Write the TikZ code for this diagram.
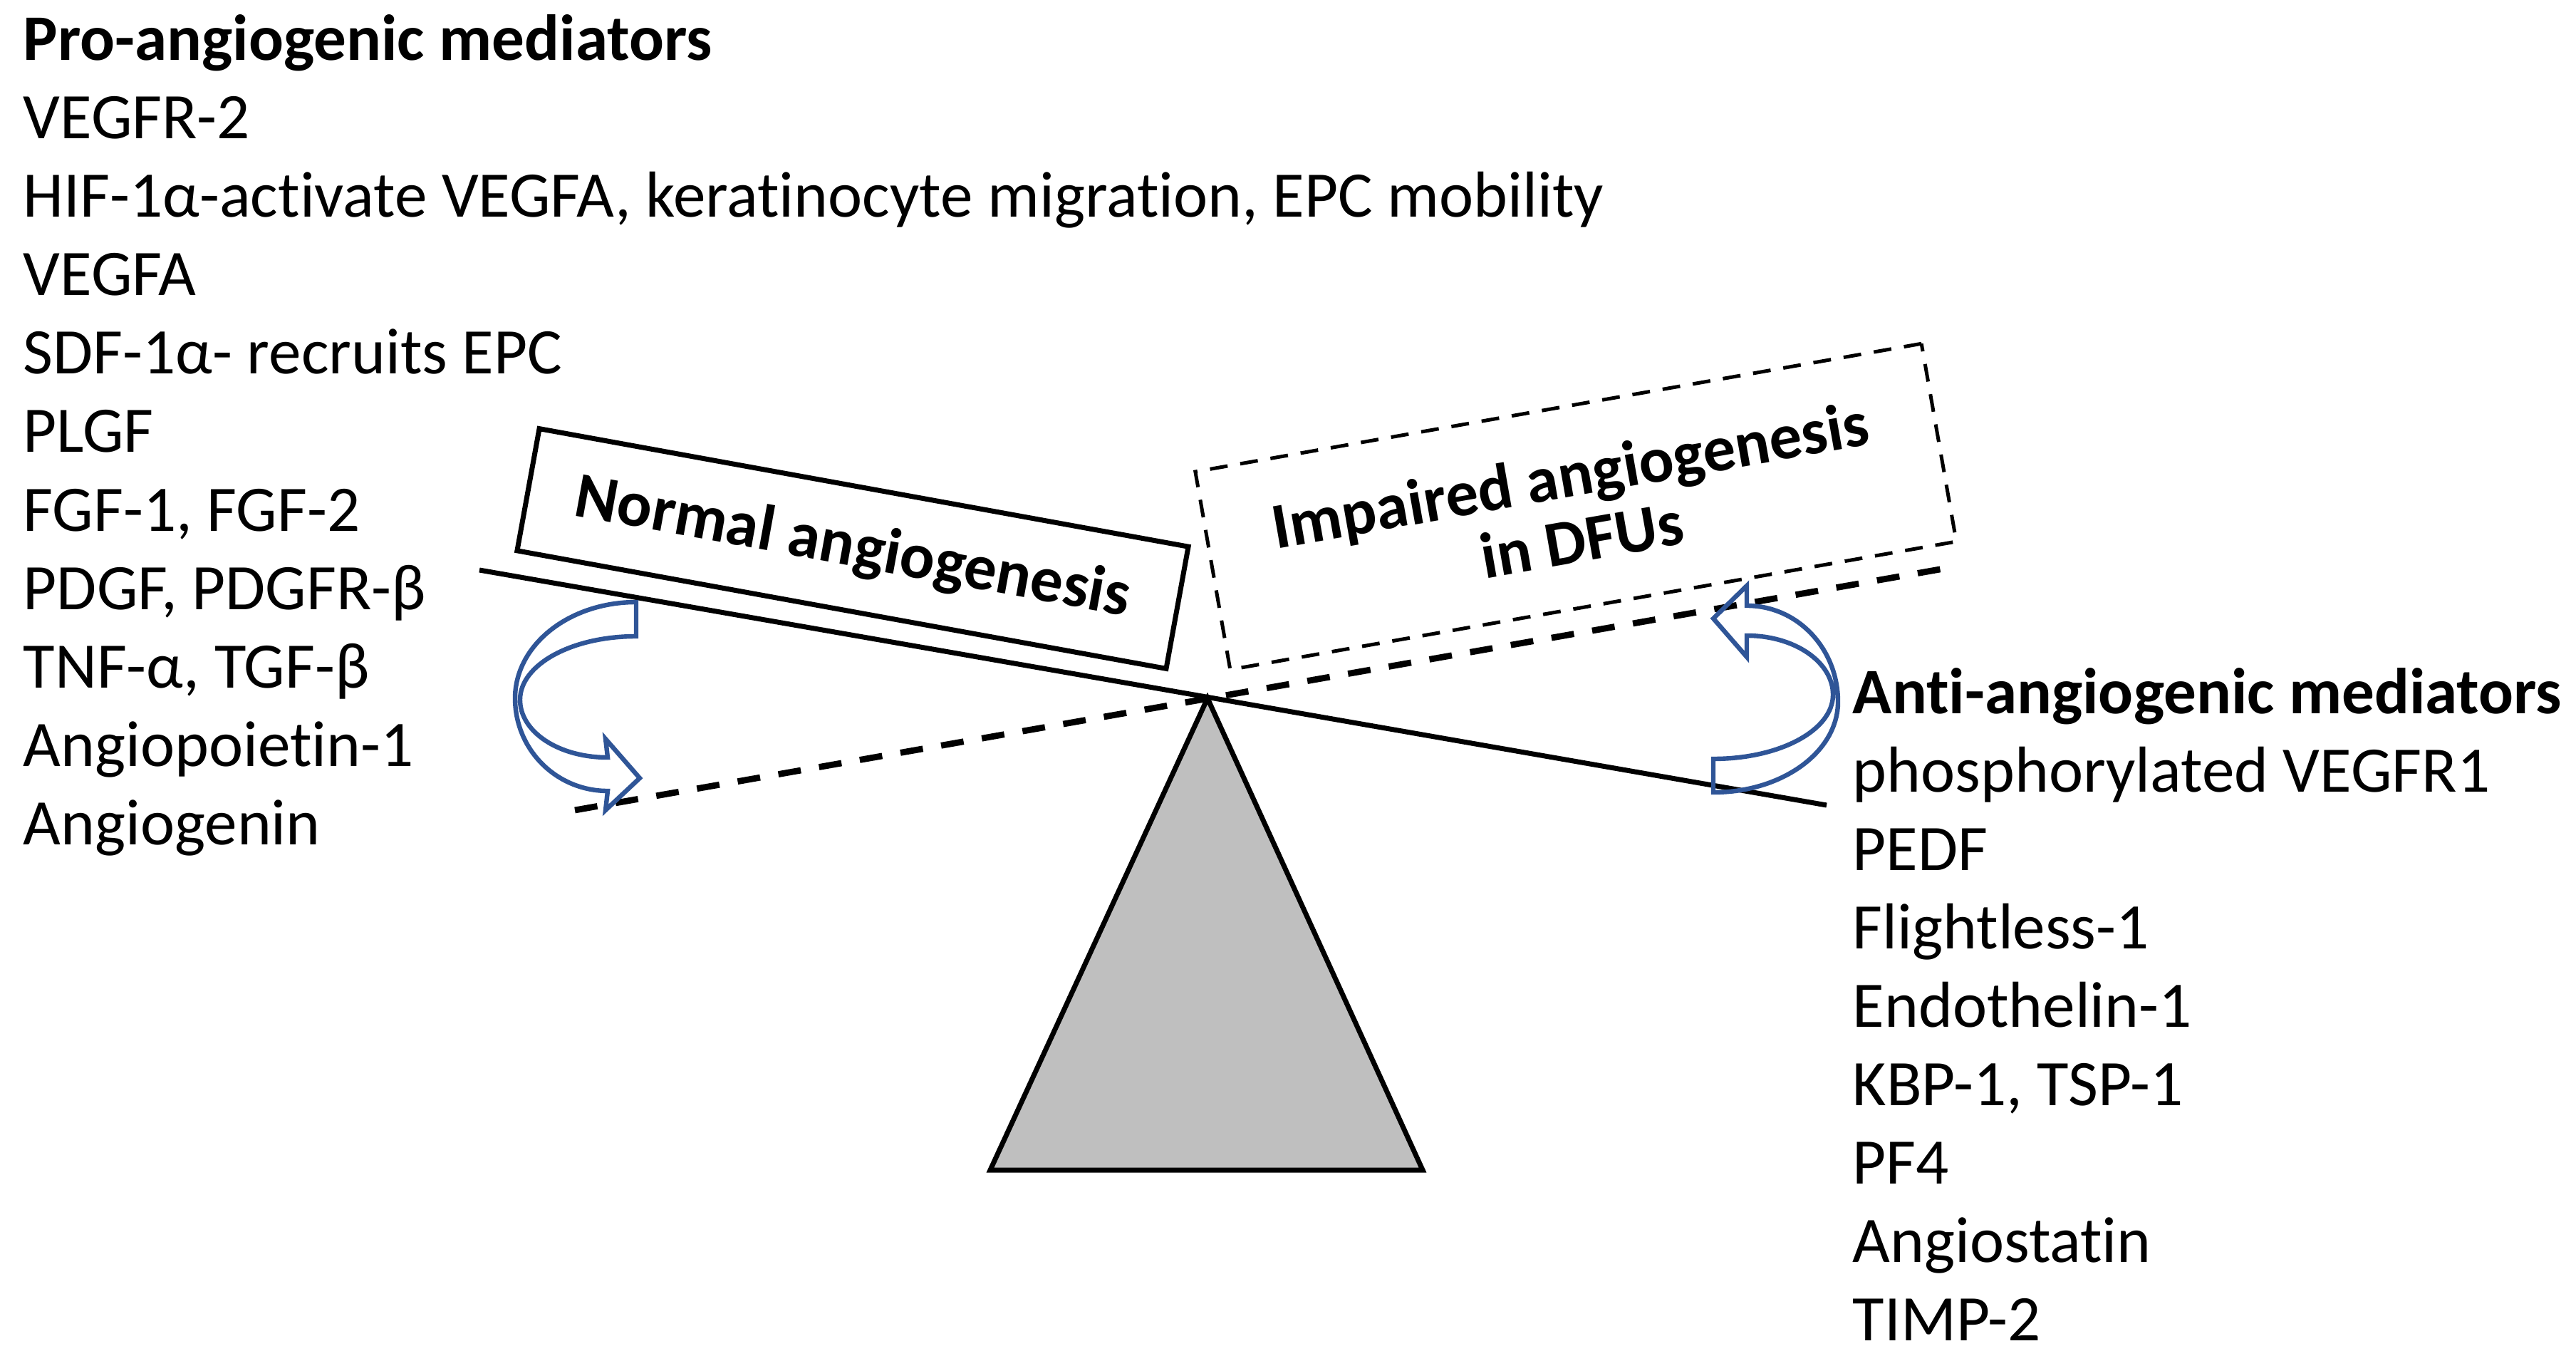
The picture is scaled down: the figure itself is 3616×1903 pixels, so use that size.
\documentclass[tikz,border=0pt]{standalone}
\usepackage{fontspec}
\setmainfont{Carlito}[Ligatures=NoCommon]
\definecolor{arrowblue}{HTML}{2F5597}
\definecolor{pivotgray}{HTML}{BFBFBF}
\begin{document}
\begin{tikzpicture}[x=0.25pt,y=-0.25pt,
  txt/.style={font=\fontsize{22.8}{27.5}\selectfont, inner sep=0pt, anchor=base west},
  boxtxt/.style={font=\bfseries\fontsize{22.8}{23}\selectfont, inner sep=0pt, align=center},
  seesaw/.style={line width=1.75pt, black},
  dashseesaw/.style={line width=2.2pt, black, dash pattern=on 8pt off 6.5pt},
  curvearrow/.style={draw=arrowblue, line width=1.6pt, line join=miter},
]
\useasboundingbox (0,0) rectangle (3616,1903);

% left list
\foreach \t [count=\i from 0] in {{\textbf{Pro-angiogenic mediators}},{VEGFR-2},{HIF-1α-activate VEGFA, keratinocyte migration, EPC mobility},{VEGFA},{SDF-1α- recruits EPC},{PLGF},{FGF-1, FGF-2},{PDGF, PDGFR-β},{TNF-α, TGF-β},{Angiopoietin-1},{Angiogenin}}
  \node[txt] (L\i) at (32,{85+110*\i}) {\t};

% right list
\foreach \t [count=\i from 0] in {{\textbf{Anti-angiogenic mediators}},{phosphorylated VEGFR1},{PEDF},{Flightless-1},{Endothelin-1},{KBP-1, TSP-1},{PF4},{Angiostatin},{TIMP-2}}
  \node[txt] (R\i) at (2600,{1001+110*\i}) {\t};

% seesaw
\coordinate (s1) at (673,800);
\coordinate (s2) at (2564,1130);
\coordinate (d1) at (807,1137);
\coordinate (d2) at (2740,796);
\coordinate (apex) at (1695,980);
\coordinate (bl) at (1390,1642);
\coordinate (br) at (1997,1642);

\draw[seesaw] (s1) -- (s2);
\draw[dashseesaw] (d1) -- (d2);
\draw[seesaw, fill=pivotgray, line join=miter] (apex) -- (br) -- (bl) -- cycle;

% boxes
\node[draw, line width=1.75pt, minimum width=231.5pt, minimum height=43.5pt, rotate=-10.3, boxtxt] (normal) at (1197,770) {Normal angiogenesis};
\node[draw, line width=1.25pt, dash pattern=on 6.25pt off 4.5pt, minimum width=258.75pt, minimum height=70.5pt, rotate=10, boxtxt] (impaired) at (2212,711) {Impaired angiogenesis\\in DFUs};

% curved arrows
\draw[curvearrow] (893,845) .. controls (799,845) and (723,905) .. (723,980)
  .. controls (723,1052) and (781,1110) .. (853,1110) -- (850,1137) -- (898,1092) -- (850,1037) -- (853,1063)
  .. controls (784,1063) and (730,1027) .. (730,982)
  .. controls (730,933) and (802,893) .. (893,893) -- cycle;

\draw[curvearrow] (2405,1112) .. controls (2502,1112) and (2580,1055) .. (2580,985)
  .. controls (2580,910) and (2523,850) .. (2452,850) -- (2452,822) -- (2405,868) -- (2452,922) -- (2452,892)
  .. controls (2519,892) and (2573,929) .. (2573,975)
  .. controls (2573,1025) and (2498,1065) .. (2405,1065) -- cycle;
\end{tikzpicture}
\end{document}
